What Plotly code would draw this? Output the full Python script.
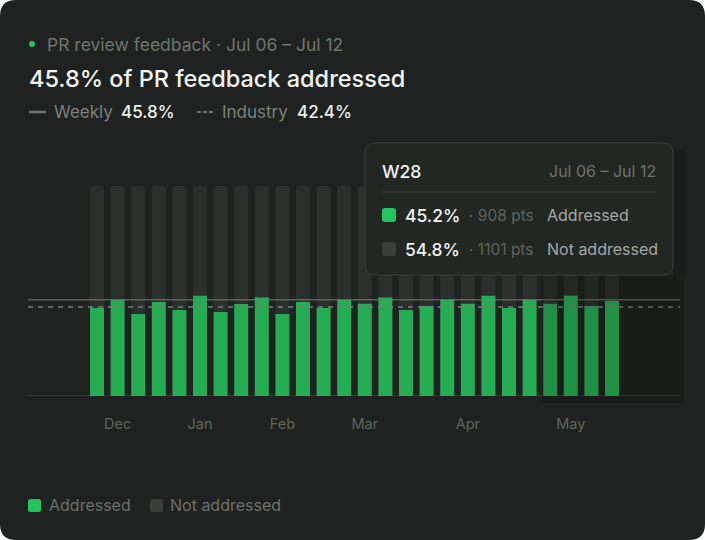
import plotly.graph_objects as go

# weekly share of PR feedback addressed (%)
weeks = ["W03", "W04", "W05", "W06", "W07", "W08", "W09", "W10", "W11", "W12",
         "W13", "W14", "W15", "W16", "W17", "W18", "W19", "W20", "W21", "W22",
         "W23", "W24", "W25", "W26", "W27", "W28"]
addressed = [42.0, 45.9, 39.0, 44.8, 41.0, 47.9, 40.0, 43.8, 47.0, 39.0,
             44.8, 42.0, 45.9, 44.0, 47.0, 41.0, 43.0, 45.9, 44.1, 47.9,
             42.0, 45.9, 44.1, 47.9, 43.0, 45.2]
not_addressed = [58.0, 54.1, 61.0, 55.2, 59.0, 52.1, 60.0, 56.2, 53.0, 61.0,
                 55.2, 58.0, 54.1, 56.0, 53.0, 59.0, 57.0, 54.1, 55.9, 52.1,
                 58.0, 54.1, 55.9, 52.1, 57.0, 54.8]
month_ticks = ["W04", "W08", "W12", "W16", "W21", "W26"]
month_labels = ["Dec", "Jan", "Feb", "Mar", "Apr", "May"]
weekly_avg = 45.8
industry_avg = 42.4

# hovered week (tooltip)
tip_week = "W28"
tip_range = "Jul 06 – Jul 12"
tip_pts = [908, 1101]

BG = "#1f2220"
GREEN = "#25ad54"
GRAY = "#2c302d"
FONT = "Inter, Noto Sans, sans-serif"

# plot area in pixels
W, H = 705, 540
L, R, T, B = 28, 25, 186, 144
PW, PH = W - L - R, H - T - B


def px(x):
    return (x - L) / PW


def py(y):
    return (H - B - y) / PH


def rrect(x0, y0, x1, y1, r):
    # rounded rectangle path, pixel coords -> paper coords
    pts = [
        f"M{px(x0 + r)},{py(y0)}",
        f"L{px(x1 - r)},{py(y0)}",
        f"Q{px(x1)},{py(y0)} {px(x1)},{py(y0 + r)}",
        f"L{px(x1)},{py(y1 - r)}",
        f"Q{px(x1)},{py(y1)} {px(x1 - r)},{py(y1)}",
        f"L{px(x0 + r)},{py(y1)}",
        f"Q{px(x0)},{py(y1)} {px(x0)},{py(y1 - r)}",
        f"L{px(x0)},{py(y0 + r)}",
        f"Q{px(x0)},{py(y0)} {px(x0 + r)},{py(y0)}",
        "Z",
    ]
    return " ".join(pts)


fig = go.Figure()
fig.add_trace(go.Bar(
    name="Addressed", x=weeks, y=addressed,
    marker=dict(color=GREEN, line=dict(width=0)),
))
fig.add_trace(go.Bar(
    name="Not addressed", x=weeks, y=not_addressed, base=addressed,
    marker=dict(color=GRAY, line=dict(width=0)),
))

shapes = [
    # card
    dict(type="path", xref="paper", yref="paper", layer="below",
         path=rrect(0, 0, W, H, 16), fillcolor=BG, line=dict(width=0)),
    # baseline
    dict(type="line", xref="paper", yref="y", x0=0, x1=1, y0=0, y1=0,
         line=dict(color="#363a37", width=2), layer="below"),
    # weekly / industry reference lines
    dict(type="line", xref="paper", yref="y", x0=0, x1=1, y0=weekly_avg, y1=weekly_avg,
         line=dict(color="#7a7e7b", width=1)),
    dict(type="line", xref="paper", yref="y", x0=0, x1=1, y0=industry_avg, y1=industry_avg,
         line=dict(color="#7a7e7b", width=1.5, dash="5px,5px")),
    # tooltip shadow
    dict(type="rect", xref="paper", yref="paper", x0=px(542), x1=px(684), y0=py(403), y1=py(276),
         fillcolor="rgba(0,0,0,0.16)", line=dict(width=0)),
    dict(type="rect", xref="paper", yref="paper", x0=px(673), x1=px(686), y0=py(276), y1=py(150),
         fillcolor="rgba(0,0,0,0.12)", line=dict(width=0)),
    # tooltip box
    dict(type="path", xref="paper", yref="paper", path=rrect(365, 143, 673, 275, 10),
         fillcolor="#232724", line=dict(color="#3b3f3c", width=1)),
    dict(type="line", xref="paper", yref="paper", x0=px(382), x1=px(656), y0=py(192), y1=py(192),
         line=dict(color="#353936", width=1)),
    dict(type="path", xref="paper", yref="paper", path=rrect(382, 208, 396, 222, 3),
         fillcolor="#22c55e", line=dict(width=0)),
    dict(type="path", xref="paper", yref="paper", path=rrect(382, 242, 396, 256, 3),
         fillcolor="#3c403d", line=dict(width=0)),
    # header: green dot and legend lines
    dict(type="circle", xref="paper", yref="paper", x0=px(29), x1=px(35), y0=py(47), y1=py(41),
         fillcolor="#22c55e", line=dict(width=0)),
    dict(type="line", xref="paper", yref="paper", x0=px(29), x1=px(46), y0=py(112), y1=py(112),
         line=dict(color="#6f7370", width=2.5)),
    dict(type="line", xref="paper", yref="paper", x0=px(197), x1=px(215), y0=py(112), y1=py(112),
         line=dict(color="#6f7370", width=2, dash="4px,2px")),
    # bottom legend swatches
    dict(type="path", xref="paper", yref="paper", path=rrect(28, 499, 41, 512, 2.5),
         fillcolor="#22c55e", line=dict(width=0)),
    dict(type="path", xref="paper", yref="paper", path=rrect(150, 499, 163, 512, 2.5),
         fillcolor="#3c403d", line=dict(width=0)),
]


def text(x, y, s, size, color, anchor="left", weight=400):
    return dict(xref="paper", yref="paper", x=px(x), y=py(y), text=s, showarrow=False,
                xanchor=anchor, yanchor="middle", xshift=0,
                font=dict(family=FONT, size=size, color=color, weight=weight))


annotations = [
    text(45, 44, "PR review feedback · Jul 06 – Jul 12", 17.5, "#70756f"),
    text(27, 78, f"{weekly_avg}% of PR feedback addressed", 23.5, "#f2f4f2", weight=500),
    text(52, 112, "Weekly", 17, "#7c817d"),
    text(119, 112, f"{weekly_avg}%", 17, "#eef0ee", weight=500),
    text(220, 112, "Industry", 17, "#7c817d"),
    text(295, 112, f"{industry_avg}%", 17, "#eef0ee", weight=500),
    # tooltip
    text(380, 171, tip_week, 17.5, "#f2f4f2", weight=500),
    text(658, 171, tip_range, 16, "#6c716d", anchor="right"),
    text(403, 215, f"{addressed[-1]}%", 17.5, "#f2f4f2", weight=500),
    text(467, 215, f"· {tip_pts[0]} pts", 15.5, "#5f645f"),
    text(545, 215, "Addressed", 16, "#a3a8a4"),
    text(403, 249, f"{not_addressed[-1]}%", 17.5, "#f2f4f2", weight=500),
    text(467, 249, f"· {tip_pts[1]} pts", 15.5, "#5f645f"),
    text(545, 249, "Not addressed", 16, "#a3a8a4"),
    # bottom legend
    text(47, 505, "Addressed", 16, "#6c716d"),
    text(168, 505, "Not addressed", 16, "#6c716d"),
]

n = len(weeks)
left_pad = (97 - L) / 20.6
right_pad = (W - R - 612) / 20.6

fig.update_layout(
    width=W, height=H,
    margin=dict(l=L, r=R, t=T, b=B, pad=0),
    paper_bgcolor="#ffffff",
    plot_bgcolor="rgba(0,0,0,0)",
    barmode="overlay",
    bargap=0.32,
    barcornerradius=3,
    font=dict(family=FONT),
    shapes=shapes,
    annotations=annotations,
    showlegend=False,
    xaxis=dict(
        type="category", range=[-left_pad, n - 1 + right_pad],
        tickmode="array", tickvals=month_ticks, ticktext=month_labels,
        ticks="outside", ticklen=15, tickcolor="rgba(0,0,0,0)",
        tickfont=dict(family=FONT, size=14.5, color="#5f645f"),
        showgrid=False, zeroline=False, showline=False, fixedrange=True,
    ),
    yaxis=dict(
        range=[0, 100], visible=False, showgrid=False, zeroline=False, fixedrange=True,
    ),
    hovermode=False,
)

fig.write_html(
    "out.html",
    config=dict(displayModeBar=False),
    post_script="document.body.style.margin='0';document.body.style.overflow='hidden';",
)
